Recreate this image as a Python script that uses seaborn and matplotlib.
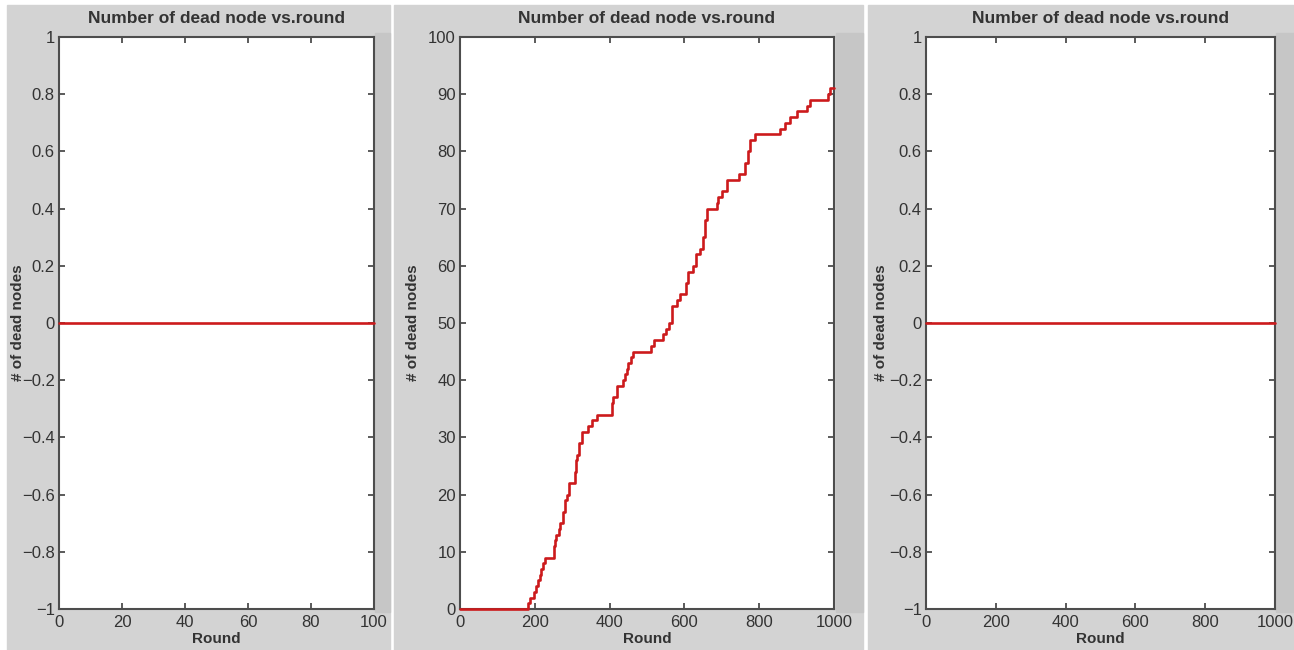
import numpy as np
import pandas as pd
import seaborn as sns
import matplotlib.pyplot as plt
from matplotlib.patches import Rectangle

sns.set_theme(style="white")
plt.rcParams["font.family"] = ["Liberation Sans", "DejaVu Sans"]

title = "Number of dead node vs.round"
xlabel = "Round"
ylabel = "# of dead nodes"

# left and right panels: no node dies
flat_rounds_a = [0, 100]
flat_dead_a = [0, 0]
flat_rounds_c = [0, 1000]
flat_dead_c = [0, 0]

# middle panel: dead nodes (step curve)
rounds_b = [0, 182, 187, 198, 202, 209, 213, 216, 222, 227, 250, 255, 258, 264,
            267, 276, 281, 286, 292, 307, 310, 313, 318, 326, 343, 352, 365,
            407, 410, 420, 437, 442, 447, 450, 457, 462, 510, 520, 543, 550,
            560, 567, 580, 588, 605, 610, 623, 630, 642, 650, 655, 660, 687,
            690, 700, 715, 745, 762, 770, 776, 789, 856, 868, 882, 901, 928,
            936, 984, 989, 1000]
dead_b = [0, 1, 2, 3, 4, 5, 6, 7, 8, 9, 11, 12, 13, 14,
          15, 17, 19, 20, 22, 24, 26, 27, 29, 31, 32, 33, 34,
          36, 37, 39, 40, 41, 42, 43, 44, 45, 46, 47, 48, 49,
          50, 53, 54, 55, 57, 59, 60, 62, 63, 65, 68, 70, 71,
          72, 73, 75, 76, 78, 80, 82, 83, 84, 85, 86, 87, 88,
          89, 90, 91, 91]

xticks_a = [0, 20, 40, 60, 80, 100]
xticks_b = [0, 200, 400, 600, 800, 1000]
yticks_flat = [-1, -0.8, -0.6, -0.4, -0.2, 0, 0.2, 0.4, 0.6, 0.8, 1]
ytick_labels_flat = ["\u22121", "\u22120.8", "\u22120.6", "\u22120.4", "\u22120.2",
                     "0", "0.2", "0.4", "0.6", "0.8", "1"]
yticks_b = [0, 10, 20, 30, 40, 50, 60, 70, 80, 90, 100]

W, H = 1294, 650
fig = plt.figure(figsize=(W / 100, H / 100), dpi=100)
fig.patch.set_facecolor("white")

panel_gray = "#d3d3d3"
strip_gray = "#c6c6c6"
text_col = "#333333"
spine_col = "#4d4d4d"
line_col = "#cc1a1c"

# panel backgrounds (pixels: x0, x1) and darker right strip
panels = [(7, 390, 375), (394, 863, 836), (868, 1294, 1276)]
for x0, x1, s0 in panels:
    fig.add_artist(Rectangle((x0 / W, 0), (x1 - x0) / W, (H - 5) / H,
                             transform=fig.transFigure, color=panel_gray, zorder=-10))
    fig.add_artist(Rectangle((s0 / W, (H - 612) / H), (x1 - s0) / W, (612 - 33) / H,
                             transform=fig.transFigure, color=strip_gray, zorder=-9))

# axes boxes in pixels: left, right, top, bottom
boxes = [(59, 374, 37, 609), (460, 834, 37, 609), (926, 1275, 37, 609)]
axes = []
for l, r, t, b in boxes:
    ax = fig.add_axes([l / W, (H - b) / H, (r - l) / W, (b - t) / H])
    ax.set_facecolor("white")
    axes.append(ax)

data = [
    (pd.DataFrame({"round": flat_rounds_a, "dead": flat_dead_a}), xticks_a, (0, 100)),
    (pd.DataFrame({"round": rounds_b, "dead": dead_b}), xticks_b, (0, 1000)),
    (pd.DataFrame({"round": flat_rounds_c, "dead": flat_dead_c}), xticks_b, (0, 1000)),
]

label_x = [18, 413, 881]
for i, (ax, (df, xt, xl)) in enumerate(zip(axes, data)):
    sns.lineplot(data=df, x="round", y="dead", ax=ax, color=line_col, linewidth=1.9,
                 drawstyle="steps-post", estimator=None, sort=False, clip_on=False,
                 zorder=5)
    ax.set_xlim(*xl)
    ax.set_xticks(xt)
    ax.set_xticklabels([str(v) for v in xt])
    if i == 1:
        ax.set_ylim(0, 100)
        ax.set_yticks(yticks_b)
        ax.set_yticklabels([str(v) for v in yticks_b])
    else:
        ax.set_ylim(-1, 1)
        ax.set_yticks(yticks_flat)
        ax.set_yticklabels(ytick_labels_flat)
    ax.tick_params(direction="in", length=4, width=1.3, color=spine_col,
                   labelsize=12, labelcolor=text_col, top=True, right=True,
                   bottom=True, left=True, pad=3)
    ax.tick_params(axis="x", pad=4)
    for sp in ax.spines.values():
        sp.set_color(spine_col)
        sp.set_linewidth(1.5)
        sp.set_visible(True)
    ax.set_title(title, fontsize=12.5, fontweight="bold", color=text_col, pad=10)
    ax.set_xlabel(xlabel, fontsize=11, fontweight="bold", color=text_col, labelpad=2)
    ax.set_ylabel(ylabel, fontsize=11, fontweight="bold", color=text_col)
    l, r, t, b = boxes[i]
    ax.yaxis.set_label_coords((label_x[i] + 7 - l) / (r - l), 0.5)

fig.savefig("out.png", dpi=100, facecolor=fig.get_facecolor())
